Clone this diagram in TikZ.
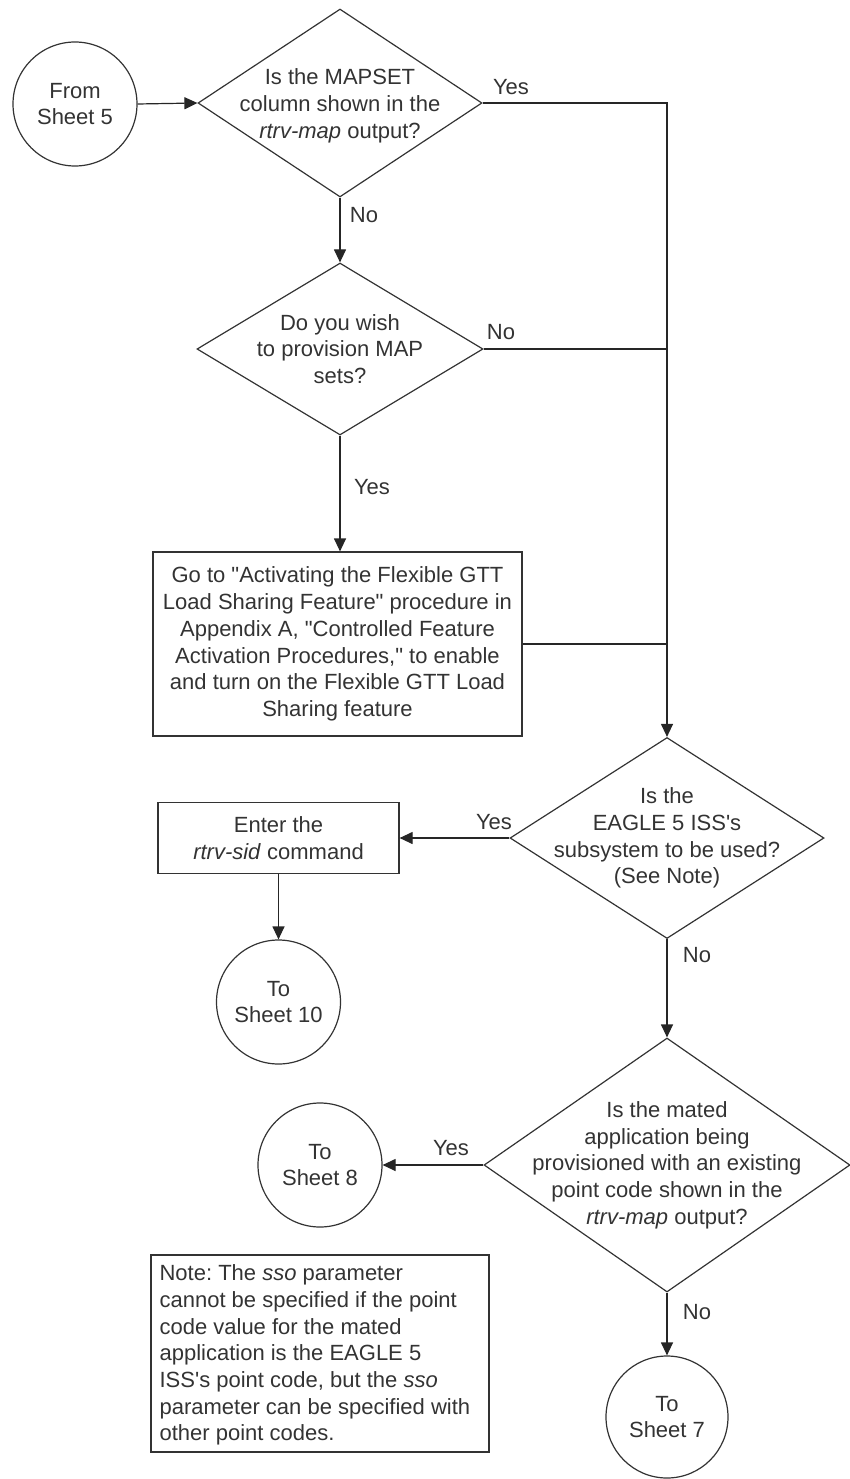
\documentclass[tikz,border=0pt]{standalone}
\usepackage{fontspec}
\setmainfont{Liberation Sans}
\usetikzlibrary{shapes.geometric,arrows.meta}
\frenchspacing
\begin{document}
\begin{tikzpicture}[x=1pt,y=-1pt,
  line width=1.2pt,
  every node/.style={font=\fontsize{22}{26.7}\selectfont\frenchspacing, text=black!80},
  term/.style={draw=black!80, circle, minimum size=124pt, inner sep=0pt, align=center},
  dec/.style={draw=black!80, diamond, inner sep=0pt},
  proc/.style={draw=black!80, rectangle, inner sep=0pt},
  txt/.style={align=center, inner sep=0pt},
  lab/.style={inner sep=0pt},
  conn/.style={draw=black!85},
  arr/.style={conn, -{Triangle[length=13pt,width=12pt]}}]
\path[use as bounding box] (0,0) rectangle (850,1479);

% nodes
\node[term] (s5) at (75,104) {From\\Sheet 5};
\node[dec, minimum width=284pt, minimum height=188pt] (d1) at (340,103) {};
\node[txt] (d1t) at (340,106) {Is the MAPSET\\column shown in the\\\textit{rtrv-map} output?};
\node[dec, minimum width=286pt, minimum height=172pt] (d2) at (340,349) {};
\node[txt] (d2t) at (340,349) {Do you wish\\to provision MAP\\sets?};
\node[proc, minimum width=369pt, minimum height=184pt] (b1) at (337.5,644) {};
\node[txt] (b1t) at (337.5,644) {Go to \textquotedbl Activating the Flexible GTT\\Load Sharing Feature\textquotedbl{} procedure in\\Appendix A, \textquotedbl Controlled Feature\\Activation Procedures,\textquotedbl{} to enable\\and turn on the Flexible GTT Load\\Sharing feature};
\node[proc, minimum width=241pt, minimum height=71pt] (b2) at (278.5,838) {};
\node[txt] (b2t) at (278.5,838) {Enter the\\\textit{rtrv-sid} command};
\node[term] (s10) at (278.5,1002) {To\\Sheet 10};
\node[dec, minimum width=314pt, minimum height=201pt] (d3) at (667,838) {};
\node[txt] (d3t) at (667,838) {Is the\\EAGLE 5 ISS\textquotesingle s\\subsystem to be used?\\(See Note)};
\node[dec, minimum width=366pt, minimum height=254pt] (d4) at (667,1165) {};
\node[txt] (d4t) at (667,1165) {Is the mated\\application being\\provisioned with an existing\\point code shown in the\\\textit{rtrv-map} output?};
\node[term] (s8) at (320,1165) {To\\Sheet 8};
\node[term, minimum size=122pt] (s7) at (667,1417) {To\\Sheet 7};
\node[proc, minimum width=338pt, minimum height=197pt] (nb) at (320,1353.5) {};
\node[align=left, anchor=west, inner sep=0pt] (nbt) at (159,1355) {Note: The \textit{sso} parameter\\cannot be specified if the point\\code value for the mated\\application is the EAGLE 5\\ISS\textquotesingle s point code, but the \textit{sso}\\parameter can be specified with\\other point codes.};

% connectors
\draw[arr] (s5.east) -- (d1.west);
\draw[arr] (d1.south) -- (d2.north);
\draw[arr] (d1.east) -| (d3.north);
\draw[conn] (d2.east) -- (d2.east -| d3.north);
\draw[conn] (b1.east) -- (b1.east -| d3.north);
\draw[arr] (d2.south) -- (d2.south |- b1.north);
\draw[arr] (d3.west) -- (d3.west -| b2.east);
\draw[arr] (b2.south) -- (s10.north);
\draw[arr] (d3.south) -- (d4.north);
\draw[arr] (d4.west) -- (s8.east);
\draw[arr] (d4.south) -- (s7.north);

% labels
\node[lab] (l1) at (511,87) {Yes};
\node[lab] (l2) at (364,215) {No};
\node[lab] (l3) at (501,332) {No};
\node[lab] (l4) at (372,487) {Yes};
\node[lab] (l5) at (494,822) {Yes};
\node[lab] (l6) at (697,955) {No};
\node[lab] (l7) at (451,1148) {Yes};
\node[lab] (l8) at (697,1312) {No};
\end{tikzpicture}
\end{document}
